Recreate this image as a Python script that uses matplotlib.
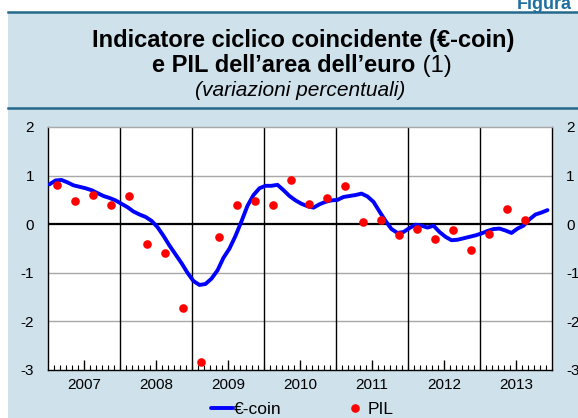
import matplotlib
matplotlib.use("Agg")
import matplotlib.pyplot as plt
from matplotlib.ticker import FixedLocator, NullFormatter
from matplotlib.lines import Line2D
import numpy as np

plt.rcParams['font.family'] = ['Liberation Sans', 'DejaVu Sans']
plt.rcParams['axes.unicode_minus'] = False

# ---------------- data ----------------
years = [2007, 2008, 2009, 2010, 2011, 2012, 2013]
year_labels = ['2007', '2008', '2009', '2010', '2011', '2012', '2013']

ecoin_2007 = [0.82, 0.90, 0.91, 0.86, 0.80, 0.77, 0.74, 0.70, 0.64, 0.58, 0.54, 0.49]
ecoin_2008 = [0.42, 0.35, 0.26, 0.20, 0.15, 0.07, -0.06, -0.24, -0.44, -0.62, -0.80, -1.00]
ecoin_2009 = [-1.17, -1.25, -1.23, -1.12, -0.95, -0.69, -0.50, -0.24, 0.06, 0.38, 0.60, 0.74]
ecoin_2010 = [0.79, 0.79, 0.81, 0.70, 0.58, 0.49, 0.42, 0.37, 0.34, 0.41, 0.46, 0.49]
ecoin_2011 = [0.50, 0.56, 0.58, 0.60, 0.63, 0.57, 0.46, 0.26, 0.07, -0.10, -0.18, -0.16]
ecoin_2012 = [-0.08, -0.01, -0.03, -0.07, -0.03, -0.16, -0.26, -0.33, -0.32, -0.29, -0.26, -0.23]
ecoin_2013 = [-0.19, -0.14, -0.10, -0.09, -0.13, -0.18, -0.09, -0.03, 0.10, 0.20, 0.24, 0.29]
ecoin = (ecoin_2007 + ecoin_2008 + ecoin_2009 + ecoin_2010 +
         ecoin_2011 + ecoin_2012 + ecoin_2013)

pil = [0.80, 0.47, 0.60, 0.40,      # 2007
       0.58, -0.40, -0.60, -1.72,   # 2008
       -2.84, -0.27, 0.39, 0.47,    # 2009
       0.40, 0.90, 0.41, 0.53,      # 2010
       0.78, 0.04, 0.08, -0.22,     # 2011
       -0.09, -0.30, -0.12, -0.53,  # 2012
       -0.20, 0.31, 0.08]           # 2013

y_ticks = [-3, -2, -1, 0, 1, 2]

# time positions
t_month = years[0] + np.arange(len(ecoin)) / 12 + 1 / 48
t_quarter = years[0] + np.arange(len(pil)) / 4 + 0.125

# ---------------- figure ----------------
W, H = 578, 418
fig = plt.figure(figsize=(W / 100, H / 100), dpi=100)
fig.patch.set_facecolor('white')

bg = '#CFE1EB'
hdr = '#24698C'

def fx(px):
    return px / W

def fy(py):
    return 1 - py / H

# light-blue panel
fig.add_artist(plt.Rectangle((fx(8), 0), 1 - fx(8), fy(12), transform=fig.transFigure,
                             facecolor=bg, edgecolor='none', zorder=0))
# header lines
for yy in (12, 108):
    fig.add_artist(Line2D([fx(8), 1], [fy(yy), fy(yy)], transform=fig.transFigure,
                          color=hdr, lw=1.8, zorder=1))

fig.text(fx(572), fy(9), 'Figura', ha='right', va='baseline', fontsize=13,
         fontweight='bold', color='#1F6FA0')

# title
fig.text(fx(303), fy(40), 'Indicatore ciclico coincidente (€-coin)', ha='center', va='center',
         fontsize=17, fontweight='bold', color='black')

t_bold = fig.text(0, fy(66), 'e PIL dell\u2019area dell\u2019euro', ha='left', va='center',
                  fontsize=17, fontweight='bold')
t_reg = fig.text(0, fy(66), ' (1)', ha='left', va='center', fontsize=17)
fig.text(fx(300), fy(91), '(variazioni percentuali)', ha='center', va='center',
         fontsize=15, style='italic')

renderer = fig.canvas.get_renderer()
wb = t_bold.get_window_extent(renderer).width
wr = t_reg.get_window_extent(renderer).width
x0 = 302 - (wb + wr) / 2
t_bold.set_x(fx(x0))
t_reg.set_x(fx(x0 + wb))

# axes
ax = fig.add_axes([fx(48), fy(370), fx(552) - fx(48), fy(127) - fy(370)])
ax.set_zorder(5)
ax.set_facecolor('white')
ax.set_xlim(years[0], years[-1] + 1)
ax.set_ylim(y_ticks[0], y_ticks[-1])

for v in y_ticks[1:-1]:
    if v == 0:
        continue
    ax.axhline(v, color='#A8A8A8', lw=1.0, zorder=1)
ax.axhline(0, color='black', lw=1.6, zorder=2)
for yr in years[1:]:
    ax.axvline(yr, color='black', lw=1.0, zorder=1)

ax.plot(t_month, ecoin, color='#0000FF', lw=2.8, zorder=3, label='€-coin',
        solid_capstyle='round', solid_joinstyle='round')
ax.plot(t_quarter, pil, linestyle='none', marker='o', markersize=6.2, color='#FF0000',
        markeredgewidth=0, zorder=4, label='PIL')

ax.set_yticks(y_ticks)
ax.set_yticklabels([str(v) for v in y_ticks])
ax.tick_params(axis='y', length=0, labelsize=11, pad=10, labelright=True, right=False)

ax.xaxis.set_major_locator(FixedLocator([y + 0.5 for y in years]))
ax.set_xticklabels(year_labels)
ax.xaxis.set_minor_locator(FixedLocator(years[0] + np.arange(1, 12 * len(years)) / 12))
ax.xaxis.set_minor_formatter(NullFormatter())
ax.tick_params(axis='x', which='major', direction='in', length=7, width=1, labelsize=11, pad=6)
ax.tick_params(axis='x', which='minor', direction='in', length=3.5, width=0.8)

for s in ('left', 'bottom', 'right'):
    ax.spines[s].set_color('black')
    ax.spines[s].set_linewidth(1.0)
ax.spines['top'].set_color('#A8A8A8')
ax.spines['top'].set_linewidth(1.0)

leg = fig.legend(loc='center', bbox_to_anchor=(fx(302), fy(409)), ncol=2, frameon=False,
                 fontsize=12.5, handlelength=1.3, handletextpad=0.05, columnspacing=3.6)
leg.set_zorder(6)

fig.savefig('out.png', dpi=100, facecolor=fig.get_facecolor())
